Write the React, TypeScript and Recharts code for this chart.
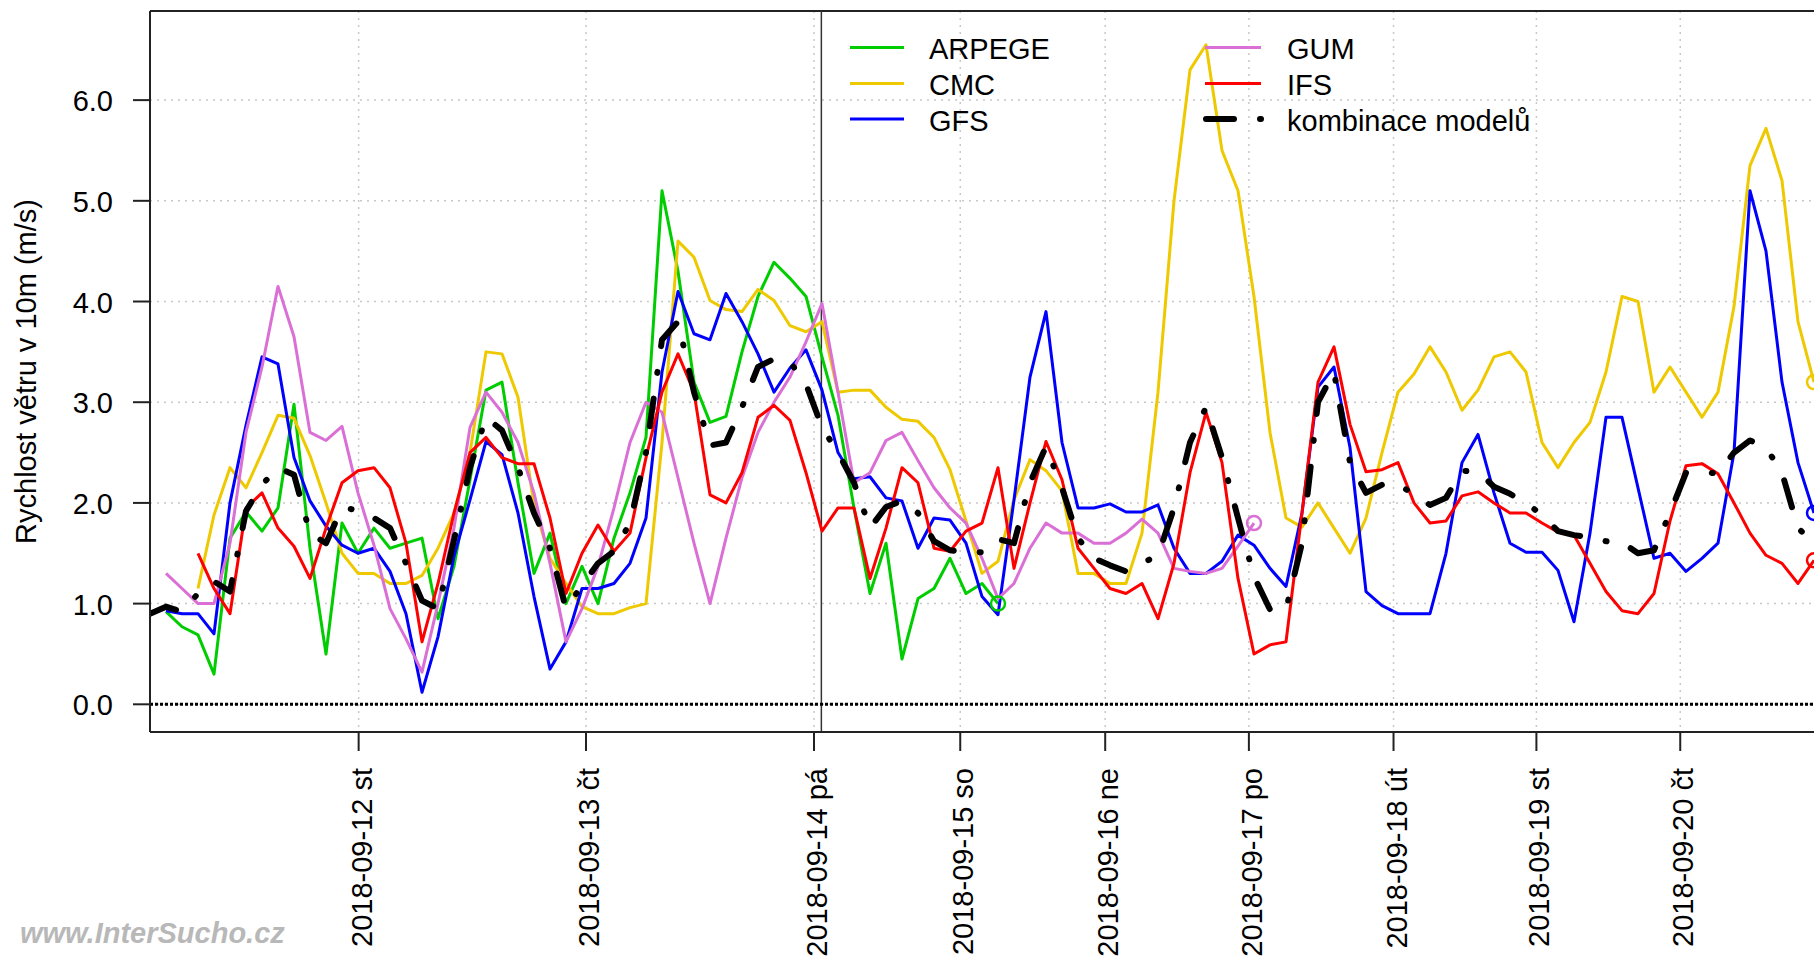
import React from 'react';
import { LineChart, Line, XAxis, YAxis, CartesianGrid, ReferenceLine, Legend } from 'recharts';

const FONT = '"Liberation Sans", Arial, Helvetica, sans-serif';

// x axis is the sample index of the merged model time axis (like the R plot, not linear in time)
const stepCount = 105;
const dayTickSteps = [13.04, 27.25, 41.5, 50.64, 59.7, 68.68, 77.72, 86.65, 95.64];
const dayTickLabels = [
  '2018-09-12 st', '2018-09-13 čt', '2018-09-14 pá', '2018-09-15 so', '2018-09-16 ne',
  '2018-09-17 po', '2018-09-18 út', '2018-09-19 st', '2018-09-20 čt',
];
const forecastStartStep = 41.96;
const yTicks = [0, 1, 2, 3, 4, 5, 6];
const yDomain: [number, number] = [-0.275, 6.885];

const arpege = [
  null, 0.92, 0.77, 0.69, 0.3, 1.65, 1.91, 1.72, 1.95, 2.98,
  1.55, 0.5, 1.8, 1.5, 1.75, 1.55, 1.6, 1.65, 0.85, 1.37,
  2.23, 3.12, 3.2, 2.2, 1.3, 1.7, 1.0, 1.37, 1.0, 1.65,
  2.1, 2.65, 5.1, 4.3, 3.2, 2.8, 2.86, 3.5, 4.05, 4.39,
  4.23, 4.05, 3.45, 2.87, 1.95, 1.1, 1.6, 0.45, 1.05, 1.15,
  1.45, 1.1, 1.2, 1.0,
];

const cmc = [
  null, null, null, 1.15, 1.88, 2.35, 2.15, 2.5, 2.87, 2.84,
  2.47, 2.0, 1.5, 1.3, 1.3, 1.2, 1.2, 1.28, 1.55, 1.9,
  2.5, 3.5, 3.48, 3.05, 1.98, 1.45, 1.2, 0.97, 0.9, 0.9,
  0.96, 1.0, 2.6, 4.6, 4.44, 4.01, 3.92, 3.9, 4.12, 4.01,
  3.76, 3.7, 3.8, 3.1, 3.12, 3.12, 2.95, 2.83, 2.81, 2.65,
  2.33, 1.82, 1.3, 1.42, 2.03, 2.43, 2.32, 2.12, 1.3, 1.3,
  1.2, 1.2, 1.7, 3.1, 5.0, 6.3, 6.55, 5.5, 5.1, 4.05,
  2.7, 1.85, 1.76, 2.0, 1.75, 1.5, 1.85, 2.5, 3.1, 3.28,
  3.55, 3.3, 2.92, 3.12, 3.45, 3.5, 3.3, 2.6, 2.35, 2.6,
  2.8, 3.3, 4.05, 4.0, 3.1, 3.35, 3.1, 2.85, 3.1, 3.95,
  5.35, 5.72, 5.2, 3.8, 3.2,
];

const gfs = [
  null, 0.93, 0.9, 0.9, 0.7, 2.0, 2.77, 3.45, 3.38, 2.45,
  2.02, 1.77, 1.58, 1.5, 1.55, 1.32, 0.9, 0.12, 0.67, 1.47,
  2.03, 2.61, 2.48, 1.9, 1.07, 0.35, 0.62, 1.15, 1.15, 1.2,
  1.4, 1.85, 3.3, 4.1, 3.68, 3.62, 4.08, 3.8, 3.48, 3.1,
  3.34, 3.52, 3.12, 2.5, 2.24, 2.26, 2.05, 2.02, 1.55, 1.85,
  1.83, 1.6, 1.07, 0.89, 2.03, 3.25, 3.9, 2.6, 1.95, 1.95,
  1.99, 1.91, 1.91, 1.98, 1.55, 1.3, 1.3, 1.42, 1.68, 1.58,
  1.35, 1.17, 1.9, 3.15, 3.35, 2.55, 1.12, 0.98, 0.9, 0.9,
  0.9, 1.5, 2.4, 2.68, 2.1, 1.6, 1.51, 1.51, 1.33, 0.82,
  1.7, 2.85, 2.85, 2.15, 1.45, 1.5, 1.32, 1.45, 1.6, 2.5,
  5.1, 4.5, 3.2, 2.4, 1.9,
];

const gum = [
  null, 1.3, 1.15, 1.0, 1.0, 1.6, 2.7, 3.35, 4.15, 3.65,
  2.7, 2.62, 2.76, 2.1, 1.58, 0.95, 0.65, 0.32, 1.0, 1.75,
  2.75, 3.1, 2.9, 2.6, 2.1, 1.4, 0.62, 0.95, 1.37, 1.95,
  2.6, 3.0, 2.9, 2.25, 1.6, 1.0, 1.65, 2.25, 2.7, 3.0,
  3.25, 3.6, 3.98, 3.1, 2.2, 2.3, 2.62, 2.7, 2.42, 2.15,
  1.95, 1.8, 1.45, 1.05, 1.2, 1.55, 1.8, 1.7, 1.7, 1.6,
  1.6, 1.7, 1.84, 1.7, 1.35, 1.32, 1.3, 1.35, 1.57, 1.8,
];

const ifs = [
  null, null, null, 1.5, 1.15, 0.9, 1.95, 2.1, 1.75, 1.57,
  1.25, 1.75, 2.2, 2.32, 2.35, 2.15, 1.6, 0.62, 1.2, 1.9,
  2.5, 2.65, 2.45, 2.39, 2.39, 1.85, 1.1, 1.5, 1.78, 1.52,
  1.7, 2.45, 3.1, 3.48, 3.1, 2.08, 2.0, 2.3, 2.85, 2.97,
  2.82, 2.3, 1.72, 1.95, 1.95, 1.25, 1.75, 2.35, 2.2, 1.55,
  1.52, 1.72, 1.8, 2.35, 1.35, 2.0, 2.61, 2.23, 1.55, 1.35,
  1.15, 1.1, 1.2, 0.85, 1.4, 2.3, 2.9, 2.4, 1.25, 0.5,
  0.59, 0.62, 1.9, 3.2, 3.55, 2.78, 2.31, 2.33, 2.4, 2.0,
  1.8, 1.82, 2.07, 2.11, 2.0, 1.9, 1.9, 1.8, 1.71, 1.68,
  1.4, 1.12, 0.93, 0.9, 1.1, 1.82, 2.37, 2.39, 2.29, 2.0,
  1.7, 1.48, 1.4, 1.2, 1.43,
];

const kombinace = [
  0.9, 0.97, 0.92, 1.1, 1.22, 1.12, 1.92, 2.18, 2.35, 2.28,
  1.7, 1.6, 1.95, 1.93, 1.85, 1.75, 1.4, 1.03, 0.95, 1.63,
  2.35, 2.85, 2.72, 2.35, 1.9, 1.55, 0.95, 1.18, 1.4, 1.52,
  1.8, 2.5, 3.62, 3.8, 3.1, 2.57, 2.6, 2.95, 3.35, 3.43,
  3.4, 3.18, 2.75, 2.5, 2.2, 1.75, 1.96, 2.02, 1.9, 1.62,
  1.53, 1.51, 1.51, 1.64, 1.6, 2.2, 2.56, 2.15, 1.65, 1.45,
  1.38, 1.32, 1.4, 1.48, 1.95, 2.6, 2.95, 2.45, 1.85, 1.27,
  0.94, 0.94, 1.6, 3.0, 3.3, 2.4, 2.1, 2.18, 2.19, 2.08,
  1.98, 2.05, 2.32, 2.31, 2.16, 2.09, 2.0, 1.88, 1.72, 1.68,
  1.66, 1.62, 1.61, 1.5, 1.53, 1.9, 2.3, 2.31, 2.29, 2.5,
  2.62, 2.55, 2.3, 1.75, 1.6,
];

const models = [
  { key: 'arpege', name: 'ARPEGE', color: '#00CD00', values: arpege },
  { key: 'cmc', name: 'CMC', color: '#EEC900', values: cmc },
  { key: 'gfs', name: 'GFS', color: '#0000FF', values: gfs },
  { key: 'gum', name: 'GUM', color: '#DA70D6', values: gum },
  { key: 'ifs', name: 'IFS', color: '#FF0000', values: ifs },
];
const combo = { key: 'kombinace', name: 'kombinace modelů', color: '#000000', values: kombinace };
const comboDash = '28 26 1 26';

const data = Array.from({ length: stepCount }, (_, i) => {
  const row: Record<string, number | null> = { step: i };
  [...models, combo].forEach((s) => {
    row[s.key] = s.values[i] ?? null;
  });
  return row;
});

const lastIndex = (vals: (number | null)[]) => {
  for (let i = vals.length - 1; i >= 0; i--) if (vals[i] != null) return i;
  return -1;
};

const endDot = (last: number, color: string) => (props: any) => {
  if (props.index !== last || props.cy == null) return <g key={`d${props.index}`} />;
  return (
    <circle key={`d${props.index}`} cx={props.cx} cy={props.cy} r={7}
      fill="none" stroke={color} strokeWidth={2.5} />
  );
};

const DayTick = (props: any) => {
  const { x, y, payload } = props;
  let idx = dayTickSteps.indexOf(payload.value);
  if (idx < 0) idx = payload.index ?? 0;
  const tx = x + 13;
  return (
    <text x={tx} y={y} transform={`rotate(-90, ${tx}, ${y})`} textAnchor="end"
      fontSize={29} fontFamily={FONT} fill="#000">
      {dayTickLabels[idx]}
    </text>
  );
};

const ValueTick = (props: any) => {
  const { x, y, payload } = props;
  return (
    <text x={x} y={y + 11} textAnchor="end" fontSize={29} fontFamily={FONT} fill="#000">
      {Number(payload.value).toFixed(1)}
    </text>
  );
};

const YTitle = () => (
  <text x={36} y={371.5} transform="rotate(-90, 36, 371.5)" textAnchor="middle"
    fontSize={29} fontFamily={FONT} fill="#000">
    Rychlost větru v 10m (m/s)
  </text>
);

const LegendBox = () => {
  const rowsY = [27.5, 63.5, 99];
  const left = models.slice(0, 3);
  const right = models.slice(3);
  return (
    <svg width={900} height={120} style={{ display: 'block' }}>
      {left.map((m, k) => (
        <g key={m.key}>
          <line x1={10} x2={64} y1={rowsY[k]} y2={rowsY[k]} stroke={m.color} strokeWidth={3} />
          <text x={89} y={rowsY[k] + 11.5} fontSize={29} fontFamily={FONT} fill="#000">{m.name}</text>
        </g>
      ))}
      {right.map((m, k) => (
        <g key={m.key}>
          <line x1={365} x2={421} y1={rowsY[k]} y2={rowsY[k]} stroke={m.color} strokeWidth={3} />
          <text x={447} y={rowsY[k] + 11.5} fontSize={29} fontFamily={FONT} fill="#000">{m.name}</text>
        </g>
      ))}
      <line x1={366} x2={422} y1={rowsY[2]} y2={rowsY[2]} stroke="#000" strokeWidth={6}
        strokeDasharray={comboDash} strokeLinecap="round" />
      <text x={447} y={rowsY[2] + 11.5} fontSize={29} fontFamily={FONT} fill="#000">{combo.name}</text>
    </svg>
  );
};

export default function App() {
  return (
    <div style={{ position: 'fixed', left: 0, top: 0, width: 1814, height: 963, overflow: 'hidden', background: '#fff' }}>
      <LineChart width={1900} height={963} data={data}
        margin={{ top: 11, right: 22, bottom: 0, left: 0 }}>
        <CartesianGrid stroke="#C8C8C8" strokeDasharray="2 5" strokeWidth={1.5} />
        <XAxis dataKey="step" type="number" domain={[0, 108]} allowDataOverflow
          ticks={dayTickSteps} interval={0} height={231}
          tickSize={19} tickMargin={17} tick={<DayTick />}
          axisLine={{ stroke: '#222', strokeWidth: 2 }} tickLine={{ stroke: '#222', strokeWidth: 2 }} />
        <YAxis type="number" domain={yDomain} allowDataOverflow ticks={yTicks} width={150}
          tickSize={17} tickMargin={20} tick={<ValueTick />} label={<YTitle />}
          axisLine={{ stroke: '#222', strokeWidth: 2 }} tickLine={{ stroke: '#222', strokeWidth: 2 }} />
        <ReferenceLine y={yDomain[1]} stroke="#222" strokeWidth={2} />
        <ReferenceLine x={forecastStartStep} stroke="#333" strokeWidth={1.5} />
        <ReferenceLine y={0} stroke="#000" strokeWidth={3} strokeDasharray="3 2" />
        {models.map((m) => (
          <Line key={m.key} type="linear" dataKey={m.key} name={m.name} stroke={m.color}
            strokeWidth={3} strokeLinejoin="round" dot={endDot(lastIndex(m.values), m.color)}
            activeDot={false} isAnimationActive={false} />
        ))}
        <Line type="linear" dataKey={combo.key} name={combo.name} stroke="#000" strokeWidth={6}
          strokeDasharray={comboDash} strokeLinecap="round" strokeLinejoin="round"
          dot={false} activeDot={false} isAnimationActive={false} />
        <Legend layout="horizontal" verticalAlign="middle" align="center"
          wrapperStyle={{ left: 840, top: 20, width: 900, height: 120 }}
          content={() => <LegendBox />} />
      </LineChart>
      <svg width={400} height={83} style={{ position: 'absolute', left: 0, top: 880 }}>
        <text x={20} y={63} fontSize={29} fontWeight="bold" fontStyle="italic"
          fontFamily={FONT} fill="#B8B8B8">www.InterSucho.cz</text>
      </svg>
    </div>
  );
}
